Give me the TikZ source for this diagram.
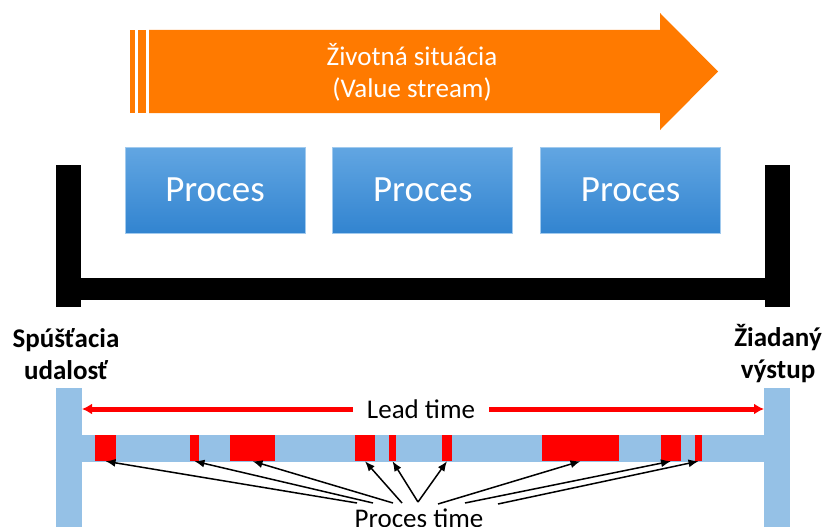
\documentclass[tikz,border=0pt]{standalone}
\usepackage{fontspec}
\setmainfont{Carlito}
\usetikzlibrary{positioning}
\usetikzlibrary{arrows.meta}

\definecolor{vsorange}{RGB}{255,122,0}
\definecolor{proctop}{RGB}{98,166,226}
\definecolor{procbot}{RGB}{50,132,208}
\definecolor{ltblue}{RGB}{149,193,230}

\begin{document}
\begin{tikzpicture}[x=1pt,y=-1pt,
    proces/.style={rectangle, minimum width=180pt, minimum height=86pt,
      top color=proctop, bottom color=procbot, draw=proctop!60!white,
      line width=0.8pt, text=white, font=\fontsize{37}{40}\selectfont},
    seg/.style={rectangle, fill=red, inner sep=0pt, minimum height=26pt},
    endlabel/.style={font=\bfseries\fontsize{27}{32}\selectfont, align=center},
    plain/.style={font=\fontsize{27}{32}\selectfont},
    leadline/.style={draw=red, line width=5pt, -{Latex[length=10pt,width=11pt]}},
    proctime/.style={draw=black, line width=1.5pt, -{Latex[length=10pt,width=8pt]}}]
        % \draw[help lines] (0,0) grid (824,527);
      \useasboundingbox (0,0) rectangle (824,527);

      % value stream arrow
      \fill[vsorange] (149,30) -- (660,30) -- (660,13) -- (718,71.5)
                      -- (660,130) -- (660,113) -- (149,113) -- cycle;
      \fill[vsorange] (129.5,30) rectangle (134.5,113);
      \fill[vsorange] (137.5,30) rectangle (146,113);
      \node[plain, text=white, align=center] (vs) at (412,72)
            {Životná situácia\\(Value stream)};

      \node[proces]                        (p_1) at (215,190) {Proces};
      \node[proces, right=27pt of p_1]     (p_2)              {Proces};
      \node[proces, right=27pt of p_2]     (p_3)              {Proces};

      % bracket
      \fill[black] (56,165) rectangle (81,307);
      \fill[black] (765,165) rectangle (790,307);
      \fill[black] (81,278) rectangle (765,300);

      \node[endlabel] (start) at (66,354)  {Spúšťacia\\udalosť};
      \node[endlabel] (goal)  at (778,354) {Žiadaný\\výstup};

      % time line
      \fill[ltblue] (56,388) rectangle (82,527);
      \fill[ltblue] (764,388) rectangle (790,527);
      \fill[ltblue] (82,435) rectangle (764,462);

      \foreach \a/\b [count=\i] in {95/116,190/199,230/275,355/375,389/396,
                                    442/452,542/619,661/681,695/702}
        \node[seg, minimum width={(\b-\a)*1pt}] (s_\i) at ({(\a+\b)/2},448) {};

      \node[plain, fill=white, inner xsep=14pt] (lead) at (421,409) {Lead time};
      \coordinate (la) at (82,409);
      \coordinate (lb) at (764,409);
      \path (lead) edge[leadline] (la)
            (lead) edge[leadline] (lb);

      \node[plain, anchor=base] (pt) at (419,527) {Proces time};
      \coordinate (t_1) at (357,503);
      \coordinate (t_2) at (373,503);
      \coordinate (t_3) at (393,503);
      \coordinate (t_4) at (402,503);
      \coordinate (t_5) at (418,502);
      \coordinate (t_7) at (438,504);
      \coordinate (t_8) at (465,503);
      \coordinate (t_9) at (498,504);

      \path (t_1) edge[proctime] (s_1.south)
            (t_2) edge[proctime] (s_2.south)
            (t_3) edge[proctime] (s_3.south)
            (t_4) edge[proctime] (s_4.south)
            (t_5) edge[proctime] (s_5.south)
                  edge[proctime] (s_6.south)
            (t_7) edge[proctime] (s_7.south)
            (t_8) edge[proctime] (s_8.south)
            (t_9) edge[proctime] (s_9.south)
            ;
    \end{tikzpicture}
\end{document}
